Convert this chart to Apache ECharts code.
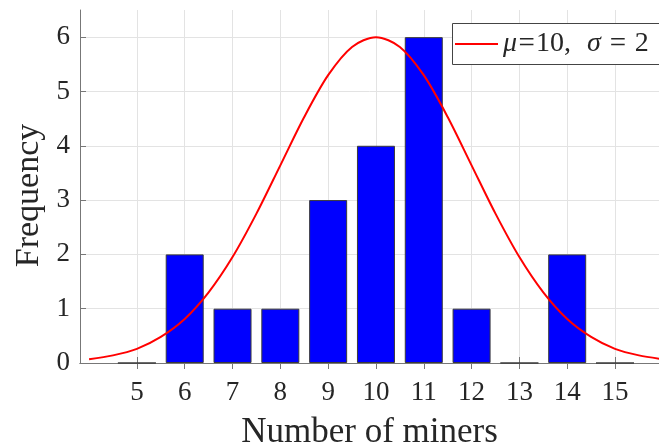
<!DOCTYPE html>
<html>
<head>
<meta charset="utf-8">
<script src="https://cdn.jsdelivr.net/npm/echarts@6/dist/echarts.min.js"></script>
<style>
html,body{margin:0;padding:0;background:#fff;}
#chart{width:659px;height:443px;}
</style>
</head>
<body>
<div id="chart"></div>
<script>
// Histogram data
var minerCounts = [5, 6, 7, 8, 9, 10, 11, 12, 13, 14, 15];
var frequencies = [0, 2, 1, 1, 3, 4, 6, 1, 0, 2, 0];
// Fitted curve
var curveX = [4, 4.5, 5, 5.5, 6, 6.5, 7, 7.5, 8, 8.5, 9, 9.5, 10, 10.5, 11, 11.5, 12, 12.5, 13, 13.5, 14, 14.5, 15, 15.5, 16];
var curveY = [0.07, 0.14, 0.26, 0.48, 0.81, 1.30, 1.95, 2.75, 3.64, 4.53, 5.30, 5.82, 6.00, 5.82, 5.30, 4.53, 3.64, 2.75, 1.95, 1.30, 0.81, 0.48, 0.26, 0.14, 0.07];
// Tick labels
var xTicks = [5, 6, 7, 8, 9, 10, 11, 12, 13, 14, 15];
var yTicks = [0, 1, 2, 3, 4, 5, 6];
var legendName = 'fit';

var font = 'Liberation Serif';
var txt = '#262626';
var axisCol = '#777777';
var gridCol = '#e3e3e3';

var chart = echarts.init(document.getElementById('chart'), null, {renderer: 'canvas'});
chart.setOption({
  animation: false,
  backgroundColor: '#ffffff',
  grid: {left: 80, top: 10, bottom: 80, right: 0, containLabel: false, outerBoundsMode: 'none'},
  graphic: [{
    type: 'rect', z: 20,
    shape: {x: 452.5, y: 23.5, width: 260, height: 41},
    style: {fill: '#ffffff', stroke: '#444444', lineWidth: 1}
  }],
  legend: {
    z: 30,
    data: [{name: legendName, icon: 'rect'}],
    left: 455, top: 29,
    padding: 0,
    itemWidth: 43,
    itemHeight: 2,
    itemGap: 0,
    formatter: function () { return '{i|μ}{eq|=}{t|10,}{g|}{i|σ}{eq2|=}{t|2}'; },
    textStyle: {
      fontFamily: font, fontSize: 28, color: txt, lineHeight: 30,
      rich: {
        i: {fontFamily: font, fontSize: 28, fontStyle: 'italic', color: txt, lineHeight: 30},
        t: {fontFamily: font, fontSize: 28, color: txt, lineHeight: 30},
        eq: {fontFamily: font, fontSize: 29, color: txt, lineHeight: 30, width: 19, align: 'center'},
        eq2: {fontFamily: font, fontSize: 29, color: txt, lineHeight: 30, width: 34, align: 'center'},
        g: {width: 16, lineHeight: 30}
      }
    }
  },
  xAxis: [{
    type: 'value', position: 'bottom', min: 3.81, max: 15.92,
    name: 'Number of miners', nameLocation: 'middle', nameGap: 52,
    nameTextStyle: {fontFamily: font, fontSize: 35, color: txt},
    axisLine: {show: true, onZero: false, lineStyle: {color: axisCol, width: 1}},
    axisTick: {show: true, inside: true, length: 6, customValues: xTicks, lineStyle: {color: axisCol}},
    axisLabel: {customValues: xTicks, margin: 16, fontFamily: font, fontSize: 27, color: txt},
    splitLine: {show: true, lineStyle: {color: gridCol, width: 1}}
  }, {
    type: 'value', position: 'top', min: 3.81, max: 15.92,
    axisLine: {show: true, lineStyle: {color: axisCol, width: 1}},
    axisTick: {show: true, inside: true, length: 6, customValues: xTicks, lineStyle: {color: axisCol}},
    axisLabel: {show: false},
    splitLine: {show: false}
  }],
  yAxis: [{
    type: 'value', min: 0, max: 6.5, interval: 1,
    name: 'Frequency', nameLocation: 'middle', nameGap: 34,
    nameTextStyle: {fontFamily: font, fontSize: 34, color: txt, padding: [0, 18, 0, 0]},
    axisLine: {show: true, lineStyle: {color: axisCol, width: 1}},
    axisTick: {show: true, inside: true, length: 6, customValues: yTicks, lineStyle: {color: axisCol}},
    axisLabel: {customValues: yTicks, margin: 10, padding: [6, 0, 0, 0], fontFamily: font, fontSize: 27, color: txt},
    splitLine: {show: true, lineStyle: {color: gridCol, width: 1}}
  }],
  series: [{
    type: 'bar', name: 'hist',
    barWidth: 38,
    data: minerCounts.map(function (x, i) { return [x, frequencies[i]]; }),
    itemStyle: {color: '#0000ff', borderColor: '#3a3a3a', borderWidth: 1},
    z: 2
  }, {
    type: 'line', name: legendName,
    data: curveX.map(function (x, i) { return [x, curveY[i]]; }),
    smooth: 0.3,
    symbol: 'none',
    lineStyle: {color: '#ff0000', width: 2},
    itemStyle: {color: '#ff0000'},
    z: 3
  }]
});
</script>
</body>
</html>
